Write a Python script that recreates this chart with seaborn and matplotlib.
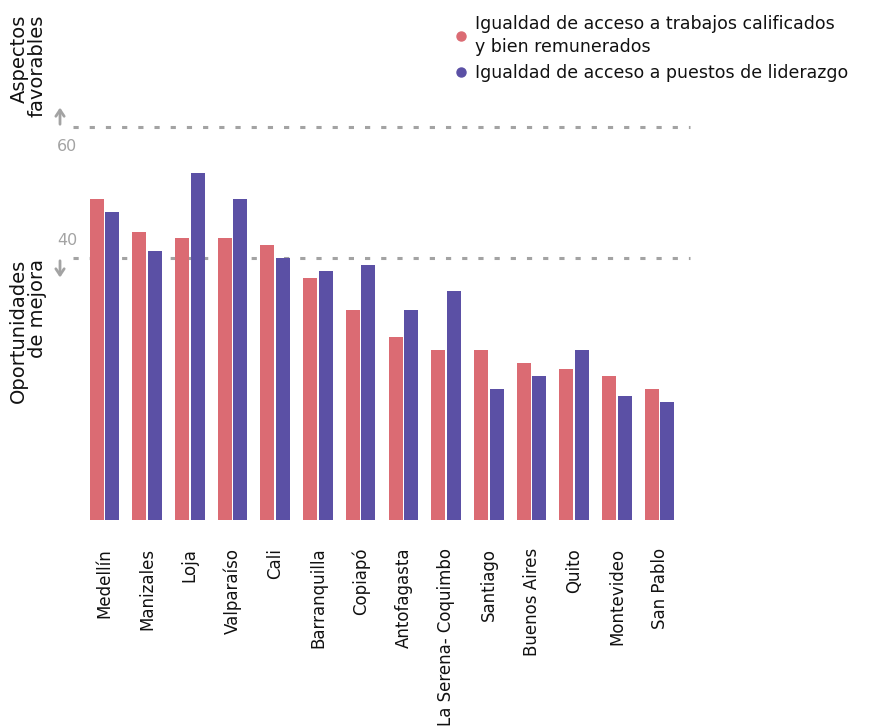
import numpy as np
import pandas as pd
import seaborn as sns
import matplotlib.pyplot as plt
from matplotlib.lines import Line2D


### Data
cities = ['Medellín', 'Manizales', 'Loja', 'Valparaíso', 'Cali', 'Barranquilla', 'Copiapó',
          'Antofagasta', 'La Serena- Coquimbo', 'Santiago', 'Buenos Aires', 'Quito',
          'Montevideo', 'San Pablo']
trabajos = [49, 44, 43, 43, 42, 37, 32, 28, 26, 26, 24, 23, 22, 20]
liderazgo = [47, 41, 53, 49, 40, 38, 39, 32, 35, 20, 22, 26, 19, 18]
series = ['Igualdad de acceso a trabajos calificados\ny bien remunerados',
          'Igualdad de acceso a puestos de liderazgo']
colors = ['#db6b73', '#5b50a5']
ref_lines = [60, 40]

df = pd.DataFrame({'city': cities * 2,
                   'value': trabajos + liderazgo,
                   'serie': [series[0]] * len(cities) + [series[1]] * len(cities)})


### Style
sns.set_style('white')
plt.rcParams['font.family'] = ['DejaVu Sans']
plt.rcParams['text.color'] = '#111111'
plt.rcParams['xtick.color'] = '#111111'
gray = '#a3a3a3'

fig = plt.figure(figsize=(8.74, 7.27), dpi=100)
ax = fig.add_axes([0.095, 0.2847, 0.6842, 0.5586])

sns.barplot(data=df, x='city', y='value', hue='serie', palette=colors,
            width=0.73, gap=0.1, saturation=1, linewidth=0, legend=False, ax=ax)

ax.set_ylim(0, 62)
ax.set_xlim(-0.5, len(cities) - 0.5)
sns.despine(ax=ax, left=True, bottom=True)
ax.set_xlabel('')
ax.set_ylabel('')
ax.set_yticks([])
ax.tick_params(axis='x', length=0, pad=20, labelsize=12, labelrotation=90)


### Reference lines, arrows and their labels
for val in ref_lines:
    ax.axhline(val, xmin=-0.017, xmax=1.015, clip_on=False, color=gray,
               lw=2.2, ls=(0, (1.7, 3.6)), zorder=0)

arrow_kw = dict(arrowstyle='->,head_length=0.45,head_width=0.3', color=gray, lw=2)
ax.annotate('', xy=(-0.0385, 63.4), xytext=(-0.0385, 60),
            xycoords=('axes fraction', 'data'), textcoords=('axes fraction', 'data'),
            arrowprops=arrow_kw, annotation_clip=False)
ax.annotate('', xy=(-0.0385, 36.6), xytext=(-0.0385, 40),
            xycoords=('axes fraction', 'data'), textcoords=('axes fraction', 'data'),
            arrowprops=arrow_kw, annotation_clip=False)

ax.text(-0.026, 57.0, '60', transform=ax.get_yaxis_transform(), ha='center', va='center',
        fontsize=11.5, color=gray)
ax.text(-0.026, 42.6, '40', transform=ax.get_yaxis_transform(), ha='center', va='center',
        fontsize=11.5, color=gray)

fig.text(28 / 874, 1 - 66 / 727, 'Aspectos\nfavorables', rotation=90, ha='center',
         va='center', multialignment='right', fontsize=14, linespacing=0.95)
fig.text(28 / 874, 1 - 331 / 727, 'Oportunidades\nde mejora', rotation=90, ha='center',
         va='center', multialignment='right', fontsize=14, linespacing=0.95)


### Legend
handles = [Line2D([], [], ls='', marker='o', markersize=6.5, color=c) for c in colors]
leg = fig.legend(handles, series, loc='upper left', bbox_to_anchor=(447 / 874, 1 - 6 / 727),
                 frameon=False, fontsize=12.5, handlelength=0.6, handletextpad=0.5,
                 labelspacing=0.45, borderpad=0)
for t in leg.get_texts():
    t.set_linespacing(1.4)

fig.savefig('out.png', dpi=100)
